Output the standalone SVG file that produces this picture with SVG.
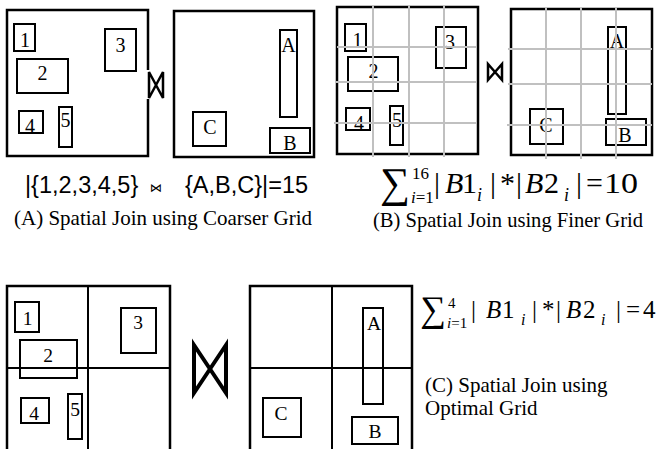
<svg xmlns="http://www.w3.org/2000/svg" width="657" height="449" viewBox="0 0 657 449">
<style>
.ob{fill:none;stroke:#000;stroke-width:2.5}
.ib{fill:none;stroke:#000;stroke-width:2}
.gr{stroke:#c0c0c0;stroke-width:2}
.dv{stroke:#000;stroke-width:2}
.lb{font-family:"Liberation Serif","Times New Roman",serif;font-size:20px;text-anchor:middle;fill:#000}
.lc{font-family:"Liberation Serif","Times New Roman",serif;font-size:19.5px;text-anchor:middle;fill:#000}
.cap{font-family:"Liberation Serif","Times New Roman",serif;font-size:21px;fill:#000}
.sans{font-family:"Liberation Sans",Arial,sans-serif;font-size:23.5px;fill:#000}
.m{font-family:"Liberation Serif","Times New Roman",serif;fill:#000}
.it{font-style:italic}
.bow{fill:none;stroke:#000;stroke-width:2.5;stroke-linejoin:miter}
</style>
<rect width="657" height="449" fill="#fff"/>

<!-- Section A -->
<g id="setA1">
<rect class="ob" x="7" y="10" width="141" height="146"/>
<rect class="ib" x="14" y="24" width="21" height="27"/><text class="lb" x="25" y="47">1</text>
<rect class="ib" x="17" y="59" width="51" height="34"/><text class="lb" x="42.5" y="80">2</text>
<rect class="ib" x="105" y="29" width="31" height="42"/><text class="lb" x="120.5" y="52">3</text>
<rect class="ib" x="19" y="111" width="24" height="22"/><text class="lb" x="30" y="133">4</text>
<rect class="ib" x="59" y="107" width="13" height="40"/><text class="lb" x="65.5" y="127">5</text>
</g>
<g id="joinA">
<rect x="146" y="70" width="4" height="29" fill="#fff"/>
<path class="bow" d="M149,72 L163,98 L163,72 L149,98 Z"/>
</g>
<g id="setA2">
<rect class="ob" x="174" y="11" width="140" height="146"/>
<rect class="ib" x="280" y="30" width="17" height="87"/><text class="lb" x="288.5" y="52">A</text>
<rect class="ib" x="193" y="112" width="33" height="34"/><text class="lb" x="210" y="134">C</text>
<rect class="ib" x="270" y="128" width="40" height="25"/><text class="lb" x="290" y="150">B</text>
</g>
<g id="formulaA">
<text class="sans" x="25" y="193">|{1,2,3,4,5}</text>
<text x="150" y="192" style="font-family:'DejaVu Sans',sans-serif;font-size:12px">⋈</text>
<text class="sans" x="185" y="193">{A,B,C}|=15</text>
</g>
<text id="captionA" class="cap" x="14" y="225" textLength="298" lengthAdjust="spacingAndGlyphs">(A) Spatial Join using Coarser Grid</text>

<!-- Section B -->
<g id="setB1">
<rect class="ob" x="337" y="7" width="141" height="147"/>
<rect class="ib" x="345" y="24" width="21" height="27"/><text class="lb" x="357.5" y="47">1</text>
<rect class="ib" x="348" y="57" width="50" height="34"/><text class="lb" x="373.5" y="78">2</text>
<rect class="ib" x="436" y="27" width="30" height="41"/><text class="lb" x="450" y="49">3</text>
<rect class="ib" x="346" y="108" width="24" height="22"/><text class="lb" x="359" y="130">4</text>
<rect class="ib" x="390" y="106" width="13" height="39"/><text class="lb" x="397" y="127">5</text>
<g id="gridB1">
<line class="gr" x1="373" y1="5" x2="373" y2="157"/>
<line class="gr" x1="409" y1="5" x2="409" y2="157"/>
<line class="gr" x1="444" y1="5" x2="444" y2="157"/>
<line class="gr" x1="337" y1="47" x2="477" y2="47"/>
<line class="gr" x1="336" y1="82" x2="477" y2="82"/>
<line class="gr" x1="334" y1="123" x2="477" y2="123"/>
</g>
</g>
<g id="joinB">
<path class="bow" d="M488,64 L502,80 L502,64 L488,80 Z"/>
</g>
<g id="setB2">
<rect class="ob" x="511" y="9" width="141" height="146"/>
<rect class="ib" x="608" y="27" width="18" height="87"/><text class="lb" x="617" y="48">A</text>
<rect class="ib" x="530" y="109" width="33" height="35"/><text class="lb" x="546" y="132">C</text>
<rect class="ib" x="606" y="119" width="40" height="26"/><text class="lb" x="625" y="142">B</text>
<g id="gridB2">
<line class="gr" x1="546" y1="7" x2="546" y2="159"/>
<line class="gr" x1="581" y1="7" x2="581" y2="159"/>
<line class="gr" x1="616" y1="7" x2="616" y2="159"/>
<line class="gr" x1="508" y1="49" x2="652" y2="49"/>
<line class="gr" x1="508" y1="84" x2="652" y2="84"/>
<line class="gr" x1="507" y1="125" x2="652" y2="125"/>
</g>
</g>
<g id="formulaB" class="m">
<text x="410" y="197" text-anchor="end" style="font-size:42px">∑</text>
<text x="412" y="179" style="font-size:17px">16</text>
<text x="411" y="203" style="font-size:17px"><tspan class="it">i</tspan>=1</text>
<text x="434" y="193" style="font-size:30px">|</text>
<text x="445" y="193" class="it" style="font-size:30px">B</text>
<text x="462" y="193" style="font-size:30px">1</text>
<text x="477" y="201" class="it" style="font-size:18px">i</text>
<text x="490" y="193" style="font-size:30px">|</text>
<text x="500" y="193" style="font-size:30px">*</text>
<text x="516" y="193" style="font-size:30px">|</text>
<text x="525" y="193" class="it" style="font-size:30px">B</text>
<text x="544" y="193" style="font-size:30px">2</text>
<text x="564" y="201" class="it" style="font-size:18px">i</text>
<text x="576" y="193" style="font-size:30px">|</text>
<text x="586" y="193" style="font-size:30px">=</text>
<text x="604" y="193" style="font-size:30px" textLength="34" lengthAdjust="spacingAndGlyphs">10</text>
</g>
<text id="captionB" class="cap" x="373" y="227" textLength="270" lengthAdjust="spacingAndGlyphs">(B) Spatial Join using Finer Grid</text>

<!-- Section C -->
<g id="setC1">
<path class="ob" d="M7,452 V286 H170 V452"/>
<line class="dv" x1="88" y1="286" x2="88" y2="452"/>
<line class="dv" x1="7" y1="368" x2="170" y2="368"/>
<rect class="ib" x="15" y="302" width="24" height="30"/><text class="lc" x="27.5" y="325">1</text>
<rect class="ib" x="121" y="308" width="35" height="45"/><text class="lc" x="138" y="329">3</text>
<rect class="ib" x="20" y="340" width="57" height="38"/><text class="lc" x="48" y="362">2</text>
<rect class="ib" x="21" y="398" width="28" height="25"/><text class="lc" x="34" y="420">4</text>
<rect class="ib" x="68" y="394" width="14" height="45"/><text class="lc" x="75" y="416">5</text>
</g>
<g id="joinC">
<path d="M194,345 L226,393 L226,345 L194,393 Z" fill="none" stroke="#000" stroke-width="4" stroke-linejoin="miter"/>
</g>
<g id="setC2">
<path class="ob" d="M250,452 V286 H412 V452"/>
<line class="dv" x1="332" y1="286" x2="332" y2="452"/>
<line class="dv" x1="250" y1="368" x2="412" y2="368"/>
<rect class="ib" x="363" y="308" width="20" height="96"/><text class="lc" x="374" y="330">A</text>
<rect class="ib" x="263" y="398" width="38" height="39"/><text class="lc" x="281" y="420">C</text>
<rect class="ib" x="352" y="417" width="46" height="27"/><text class="lc" x="375" y="438">B</text>
</g>
<g id="formulaC" class="m">
<text x="446" y="321" text-anchor="end" style="font-size:36px">∑</text>
<text x="448" y="308" style="font-size:15px">4</text>
<text x="447" y="328" style="font-size:15px"><tspan class="it">i</tspan>=1</text>
<text x="471" y="318" style="font-size:25px">|</text>
<text x="486" y="318" class="it" style="font-size:25px">B</text>
<text x="502" y="318" style="font-size:25px">1</text>
<text x="521" y="325" class="it" style="font-size:16px">i</text>
<text x="532" y="318" style="font-size:25px">|</text>
<text x="542" y="318" style="font-size:25px">*</text>
<text x="556" y="318" style="font-size:25px">|</text>
<text x="566" y="318" class="it" style="font-size:25px">B</text>
<text x="583" y="318" style="font-size:25px">2</text>
<text x="601" y="325" class="it" style="font-size:16px">i</text>
<text x="616" y="318" style="font-size:25px">|</text>
<text x="626" y="318" style="font-size:25px">=</text>
<text x="643" y="318" style="font-size:25px">4</text>
</g>
<g id="captionC" class="cap">
<text x="425" y="392">(C) Spatial Join using</text>
<text x="425" y="415">Optimal Grid</text>
</g>
</svg>
